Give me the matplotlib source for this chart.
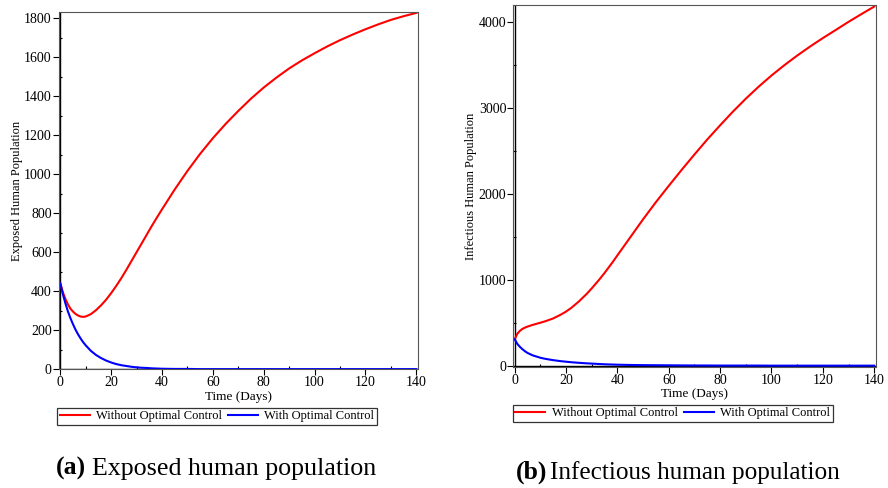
import matplotlib.pyplot as plt
from matplotlib.ticker import MultipleLocator

plt.rcParams['font.family'] = ['Liberation Serif', 'DejaVu Serif']

# values
t_exp = [0, 1, 2, 3, 4, 5, 6, 7, 8, 9, 10, 12, 14, 16, 18, 20, 22, 24, 26, 28, 30, 32,
         34, 36, 38, 40, 45, 50, 55, 60, 65, 70, 75, 80, 85, 90, 95, 100, 105, 110, 115,
         120, 125, 130, 135, 140]
exp_without = [440, 395, 360, 332, 310, 295, 283, 275, 270, 268, 270, 282, 302, 327, 356,
               390, 427, 467, 510, 555, 600, 645, 690, 735, 778, 820, 922, 1017, 1105,
               1185, 1258, 1325, 1388, 1445, 1496, 1543, 1584, 1621, 1656, 1688, 1717,
               1744, 1769, 1792, 1811, 1828]
exp_with = [440, 385, 338, 296, 261, 230, 202, 178, 157, 138, 122, 94, 73, 57, 44, 34, 26,
            20, 16, 12, 9, 7, 6, 4, 3, 2, 1, 1, 0, 0, 0, 0, 0, 0, 0, 0, 0, 0, 0, 0, 0, 0,
            0, 0, 0, 0]

t_inf = [0, 1, 2, 3, 4, 5, 7, 10, 12, 15, 18, 20, 22, 25, 28, 30, 33, 35, 38, 40, 45, 50,
         55, 60, 65, 70, 75, 80, 85, 90, 95, 100, 105, 110, 115, 120, 125, 130, 135, 140]
inf_without = [307, 370, 405, 428, 443, 455, 475, 500, 518, 550, 595, 630, 672, 748, 835,
               900, 1005, 1080, 1200, 1285, 1495, 1705, 1905, 2095, 2280, 2460, 2635, 2800,
               2960, 3110, 3250, 3380, 3500, 3612, 3717, 3816, 3910, 4005, 4095, 4183]
inf_with = [307, 255, 220, 192, 168, 148, 120, 92, 79, 64, 52, 46, 40, 33, 27, 24, 19, 16,
            13, 11, 8, 6, 5, 4, 3, 2, 2, 1, 1, 1, 1, 0, 0, 0, 0, 0, 0, 0, 0, 0]

labels = ['Without Optimal Control', 'With Optimal Control']


def draw_panel(ax, t, y_without, y_with, ylabel, ylim, ymajor, yminor, xlim, leg_y):
    ax.plot(t, y_without, color='#ff0000', lw=1.5, label=labels[0])
    ax.plot(t, y_with, color='#0000ff', lw=1.5, label=labels[1])
    ax.set_xlim(*xlim)
    ax.set_ylim(*ylim)
    ax.axhline(0, color='black', lw=1.0, zorder=0)
    ax.axvline(0, color='black', lw=1.0, zorder=0)
    for s in ax.spines.values():
        s.set_color('#555555')
        s.set_linewidth(0.8)
    ax.xaxis.set_major_locator(MultipleLocator(20))
    ax.xaxis.set_minor_locator(MultipleLocator(10))
    ax.yaxis.set_major_locator(MultipleLocator(ymajor))
    ax.yaxis.set_minor_locator(MultipleLocator(yminor))
    ax.tick_params(which='major', direction='out', length=4, width=0.8,
                   labelsize=10, pad=1)
    ax.tick_params(which='minor', direction='in', length=2.5, width=0.8)
    ax.set_xlabel('Time (Days)', fontsize=9.5, labelpad=1)
    ax.set_ylabel(ylabel, fontsize=9, labelpad=1)
    leg = ax.legend(loc='upper center', bbox_to_anchor=(0.44, leg_y), ncol=2,
                    fontsize=9, frameon=True, fancybox=False, edgecolor='black',
                    handlelength=2.4, columnspacing=0.5, handletextpad=0.5,
                    borderpad=0.2, borderaxespad=0)
    leg.get_frame().set_linewidth(0.9)


fig = plt.figure(figsize=(8.88, 4.88), dpi=100)
ax1 = fig.add_axes([0.0661, 0.2432, 0.405, 0.7316])
ax2 = fig.add_axes([0.578, 0.2486, 0.4084, 0.7406])

draw_panel(ax1, t_exp, exp_without, exp_with, 'Exposed Human Population',
           (-1, 1831), 200, 100, (-0.63, 140.8), -0.108)
draw_panel(ax2, t_inf, inf_without, inf_with, 'Infectious Human Population',
           (-12, 4198), 1000, 500, (-0.55, 140.66), -0.106)

fig.text(56 / 888, 1 - 475 / 488, '(a)', fontsize=18.5, fontweight='bold', va='baseline')
fig.text(92 / 888, 1 - 475 / 488, 'Exposed human population', fontsize=18.7,
         va='baseline')
fig.text(516 / 888, 1 - 479 / 488, '(b)', fontsize=18.5, fontweight='bold', va='baseline')
fig.text(550 / 888, 1 - 479 / 488, 'Infectious human population', fontsize=18.2,
         va='baseline')

fig.savefig('out.png', dpi=100)
